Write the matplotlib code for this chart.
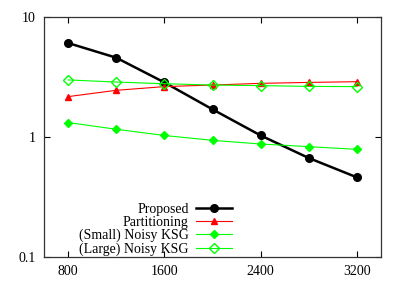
import matplotlib
matplotlib.use("Agg")
import matplotlib.pyplot as plt
from matplotlib.ticker import FixedLocator, NullLocator

plt.rcParams["font.family"] = ["Liberation Serif", "DejaVu Serif"]
plt.rcParams["font.size"] = 10

x = [800, 1200, 1600, 2000, 2400, 2800, 3200]
proposed = [6.07, 4.58, 2.85, 1.70, 1.03, 0.668, 0.461]
partitioning = [2.17, 2.45, 2.63, 2.71, 2.80, 2.85, 2.89]
small_ksg = [1.32, 1.16, 1.03, 0.938, 0.874, 0.831, 0.789]
large_ksg = [2.99, 2.87, 2.78, 2.71, 2.68, 2.64, 2.63]

fig = plt.figure(figsize=(4.05, 2.84), dpi=100)
ax = fig.add_axes([44 / 405, 1 - 257 / 284, 337 / 405, 240 / 284])

ax.plot(x, proposed, color="black", lw=1.8, marker="o", ms=5.5, label="Proposed")
ax.plot(x, partitioning, color="red", lw=0.8, marker="^", ms=5, label="Partitioning")
ax.plot(x, small_ksg, color="#00ff00", lw=0.8, marker="D", ms=4.5, label="(Small) Noisy KSG")
ax.plot(x, large_ksg, color="#00ff00", lw=0.8, marker="D", ms=5, mfc="none",
        label="(Large) Noisy KSG")

ax.set_yscale("log")
ax.set_ylim(0.1, 10)
ax.set_xlim(600, 3400)
ax.xaxis.set_major_locator(FixedLocator([800, 1600, 2400, 3200]))
ax.yaxis.set_major_locator(FixedLocator([0.1, 1, 10]))
ax.yaxis.set_minor_locator(NullLocator())
ax.set_yticklabels(["0.1", "1", "10"])
ax.tick_params(direction="in", top=True, right=True, length=4, width=0.8, pad=6)
for s in ax.spines.values():
    s.set_linewidth(0.9)
    s.set_color("#333333")

ax.legend(loc="lower right", bbox_to_anchor=((236 - 44) / 337, -0.013), frameon=False,
          markerfirst=False, labelspacing=0.0, handlelength=2.6, handletextpad=0.5,
          borderpad=0.3, borderaxespad=0.0)

fig.savefig("out.png", dpi=100)
